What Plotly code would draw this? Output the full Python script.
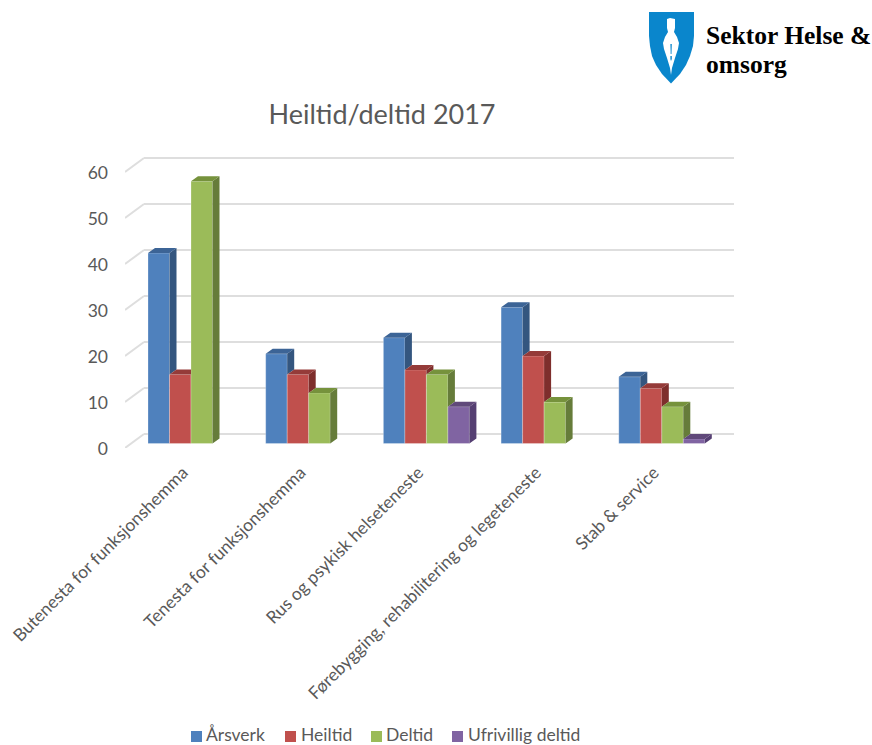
import plotly.graph_objects as go

W, H = 872, 745
categories = ["Butenesta for funksjonshemma", "Tenesta for funksjonshemma",
              "Rus og psykisk helseteneste",
              "Førebygging, rehabilitering og legeteneste", "Stab & service"]
series_names = ["Årsverk", "Heiltid", "Deltid", "Ufrivillig deltid"]
aarsverk = [41.4, 19.5, 23, 29.6, 14.5]
heiltid = [15, 15, 16, 19, 12]
deltid = [57, 11, 15, 9, 8]
ufrivillig = [None, None, 8, None, 1]
y_ticks = [0, 10, 20, 30, 40, 50, 60]
front = ["#4F81BD", "#C0504D", "#9BBB59", "#8064A2"]
side = ["#34567F", "#7E2E2C", "#667C3A", "#553F72"]
top = ["#3C6496", "#953B39", "#76923C", "#60497A"]
GREY = "#595959"
FONT = "Lato"

PX_X = 117.7; PX_Y = 4.6; C0 = 191; Y0 = 443.5
dx = 7 / PX_X; dy = 5 / PX_Y; back = 9.5 / PX_Y
GROUP = 86 / PX_X
BW = GROUP / 4
xr = [(125 - C0) / PX_X, (734 - C0) / PX_X]
yr = [(Y0 - 448) / PX_Y, (Y0 - 157) / PX_Y]
px = lambda x: x / W
py = lambda y: 1 - y / H

data = [aarsverk, heiltid, deltid, ufrivillig]
fig = go.Figure()
for name, vals, c in zip(series_names, data, front):
    fig.add_bar(x=list(range(5)), y=vals, name=name, marker_color=c,
                marker_line_color="rgba(255,255,255,0.25)", marker_line_width=1,
                hoverinfo="skip", showlegend=False)

# 3-D side and top faces, derived from the values
for s, vals in enumerate(data):
    sx, sy, tx, ty = [], [], [], []
    for g, v in enumerate(vals):
        if v is None:
            continue
        left = g - GROUP / 2 + s * BW
        right = left + BW
        nxt = data[s + 1][g] if s < 3 and data[s + 1][g] is not None else 0
        if nxt > v:
            tx += [left, left + dx, right, right, None]
            ty += [v, v + dy, v + dy, v, None]
        else:
            tx += [left, left + dx, right + dx, right, left, None]
            ty += [v, v + dy, v + dy, v, v, None]
            sx += [right, right + dx, right + dx, right, right, None]
            sy += [v, v + dy, nxt + dy, nxt, v, None]
    fig.add_scatter(x=sx, y=sy, mode="lines", fill="toself", fillcolor=side[s],
                    line=dict(width=0), showlegend=False, hoverinfo="skip")
    fig.add_scatter(x=tx, y=ty, mode="lines", fill="toself", fillcolor=top[s],
                    line=dict(width=0), showlegend=False, hoverinfo="skip")

# back wall grid and floor/side diagonals
shapes = []
grid = dict(color="#DEDEDE", width=2)
x_back = (144 - C0) / PX_X
for t in y_ticks:
    shapes.append(dict(type="line", xref="x", yref="y", layer="below", line=grid,
                       x0=x_back, x1=xr[1], y0=t + back, y1=t + back))
    shapes.append(dict(type="line", xref="x", yref="y", layer="below", line=grid,
                       x0=xr[0], x1=x_back, y0=t + back - 14 / PX_Y, y1=t + back))


def path(points, close=True):
    s = "M" + " L".join(f"{px(a):.5f},{py(b):.5f}" for a, b in points)
    return s + (" Z" if close else "")


# logo
shield = [(649, 12), (694, 12), (694, 36), (693, 46), (690, 56), (686, 65), (680, 74),
          (671, 83.5), (662, 74), (656, 65), (652, 56), (650, 46), (649, 36)]
pen = [(667, 19), (670, 18), (675, 19), (675, 28), (674, 32), (677, 37), (679, 43),
       (678, 49), (675, 58), (672, 68), (671, 75), (670, 68), (667, 58), (664, 49),
       (663, 43), (665, 37), (668, 32), (667, 28)]
slit = [(670.4, 44), (671.8, 44), (671.5, 54), (670.7, 54)]
dot = [(670.4, 56), (671.8, 56), (671.8, 59), (671, 61), (670.4, 59)]
for pts, col in [(shield, "#0A86CC"), (pen, "white"), (slit, "#0A86CC"), (dot, "#0A86CC")]:
    shapes.append(dict(type="path", xref="paper", yref="paper", path=path(pts),
                       fillcolor=col, line=dict(width=0), layer="above"))

logo = dict(family="Liberation Serif", size=25.5, color="black")
annotations = [
    dict(x=px(706), y=py(35), text="<b>Sektor Helse &</b>", font=logo),
    dict(x=px(706), y=py(65), text="<b>omsorg</b>", font=logo),
]
# legend row
legend_swatch = [191, 285, 371, 452]
legend_text = [206, 301, 386, 468]
for name, c, sx0, tx0 in zip(series_names, front, legend_swatch, legend_text):
    shapes.append(dict(type="rect", xref="paper", yref="paper", x0=px(sx0), x1=px(sx0 + 11),
                       y0=py(742), y1=py(731), fillcolor=c, line=dict(width=0)))
    annotations.append(dict(x=px(tx0), y=py(734), text=name,
                            font=dict(size=17.5, color=GREY, family=FONT)))
for a in annotations:
    a.update(xref="paper", yref="paper", xanchor="left", yanchor="middle", showarrow=False,
             borderpad=0, borderwidth=0)

fig.update_layout(
    width=W, height=H, autosize=False, paper_bgcolor="white", plot_bgcolor="white",
    margin=dict(l=0, r=0, t=0, b=0), barmode="group", bargap=1 - GROUP, bargroupgap=0,
    font=dict(family=FONT, color=GREY, size=18), showlegend=False,
    title=dict(text="Heiltid/deltid 2017", x=382 / W, xanchor="center", y=py(115),
               yanchor="middle", font=dict(size=27, color=GREY, family=FONT)),
    shapes=shapes, annotations=annotations,
    xaxis=dict(domain=[125 / W, 734 / W], range=xr, tickmode="array",
               tickvals=list(range(5)), ticktext=categories, tickangle=-45,
               showgrid=False, zeroline=False, showline=False, ticks="", ticklen=0,
               ticklabelstandoff=10, ticklabelshift=-8,
               tickfont=dict(size=17.5, color=GREY), automargin=False),
    yaxis=dict(domain=[1 - 448 / H, 1 - 157 / H], range=yr, tickmode="array",
               tickvals=y_ticks, showgrid=False, zeroline=False, showline=False,
               ticks="", ticklabelstandoff=16, ticklabelshift=5,
               tickfont=dict(size=17.5, color=GREY), automargin=False),
)
fig.write_html("out.html", config={"displayModeBar": False},
               post_script="document.body.style.margin='0';document.documentElement.style.overflow='hidden';")
